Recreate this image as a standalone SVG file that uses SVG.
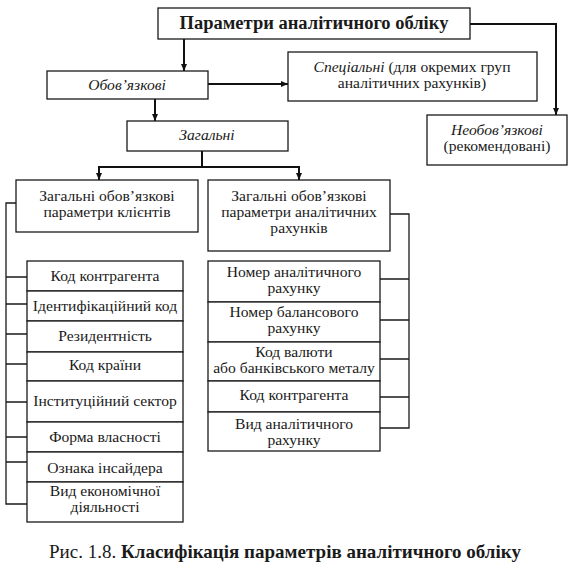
<svg xmlns="http://www.w3.org/2000/svg" width="574" height="579" viewBox="0 0 574 579">
<style>
.box{fill:#fff;stroke:#1a1a1a;stroke-width:1.3}
text{font-family:'Liberation Serif','DejaVu Serif',serif;font-size:15.6px;fill:#1a1a1a;text-anchor:middle}
.i{font-style:italic}
.b{font-weight:bold}
.arr{fill:none;stroke:#111;stroke-width:2}
.br{fill:none;stroke:#1a1a1a;stroke-width:1.3}
</style>
<defs>
<marker id="ah" markerWidth="8" markerHeight="8" refX="7" refY="4" orient="auto" markerUnits="userSpaceOnUse">
<path d="M0,1 L7,4 L0,7 Z" fill="#111"/>
</marker>
</defs>
<rect width="574" height="579" fill="#fff"/>
<g id="connectors">
<path class="arr" d="M184,39 V71" marker-end="url(#ah)"/>
<path class="arr" d="M208,84 H288" marker-end="url(#ah)"/>
<path class="arr" d="M470,24 H556 V115" marker-end="url(#ah)"/>
<path class="arr" d="M155,99 V121" marker-end="url(#ah)"/>
<path class="arr" d="M202,151 V167"/>
<path class="arr" d="M99,167 H299"/>
<path class="arr" d="M99,166 V180" marker-end="url(#ah)"/>
<path class="arr" d="M299,166 V180" marker-end="url(#ah)"/>
<path class="br" d="M16,203 H6 V504 H27 M6,277 H27 M6,304 H27 M6,334 H27 M6,364 H27 M6,402 H27 M6,437 H27 M6,462 H27"/>
<path class="br" d="M390,214 H409 V428 H380 M380,279 H409 M380,320 H409 M380,359 H409 M380,397 H409"/>
</g>
<g id="root">
<rect class="box" x="158" y="8" width="312" height="31"/>
<text class="b" x="314" y="29" style="font-size:18.5px">Параметри аналітичного обліку</text>
</g>
<g id="obov">
<rect class="box" x="47" y="71" width="161" height="28"/>
<text class="i" x="127" y="90">Обов’язкові</text>
</g>
<g id="spec">
<rect class="box" x="288" y="52" width="249" height="49"/>
<text x="412" y="72"><tspan class="i">Спеціальні</tspan> (для окремих груп</text>
<text x="412" y="88">аналітичних рахунків)</text>
</g>
<g id="neobov">
<rect class="box" x="427" y="115" width="140" height="50"/>
<text class="i" x="497" y="135">Необов’язкові</text>
<text x="497" y="151">(рекомендовані)</text>
</g>
<g id="zag">
<rect class="box" x="127" y="121" width="161" height="30"/>
<text class="i" x="207" y="140">Загальні</text>
</g>
<g id="clients">
<rect class="box" x="16" y="180" width="182" height="52"/>
<text x="107" y="201">Загальні обов’язкові</text>
<text x="107" y="217">параметри клієнтів</text>
</g>
<g id="accounts">
<rect class="box" x="208" y="180" width="182" height="71"/>
<text x="299" y="201">Загальні обов’язкові</text>
<text x="299" y="217">параметри аналітичних</text>
<text x="299" y="233">рахунків</text>
</g>
<g id="client-list">
<rect class="box" x="27" y="261" width="156" height="30"/>
<text x="105" y="281">Код контрагента</text>
<rect class="box" x="27" y="291" width="156" height="30"/>
<text x="105" y="311">Ідентифікаційний код</text>
<rect class="box" x="27" y="321" width="156" height="31"/>
<text x="105" y="341">Резидентність</text>
<rect class="box" x="27" y="352" width="156" height="29"/>
<text x="105" y="370">Код країни</text>
<rect class="box" x="27" y="381" width="156" height="41"/>
<text x="105" y="406">Інституційний сектор</text>
<rect class="box" x="27" y="422" width="156" height="30"/>
<text x="105" y="442">Форма власності</text>
<rect class="box" x="27" y="452" width="156" height="30"/>
<text x="105" y="473">Ознака інсайдера</text>
<rect class="box" x="27" y="482" width="156" height="40"/>
<text x="105" y="496">Вид економічної</text>
<text x="105" y="512">діяльності</text>
</g>
<g id="account-list">
<rect class="box" x="208" y="261" width="172" height="41"/>
<text x="294" y="277">Номер аналітичного</text>
<text x="294" y="293">рахунку</text>
<rect class="box" x="208" y="302" width="172" height="40"/>
<text x="294" y="317">Номер балансового</text>
<text x="294" y="333">рахунку</text>
<rect class="box" x="208" y="342" width="172" height="39"/>
<text x="294" y="357">Код валюти</text>
<text x="294" y="373">або банківського металу</text>
<rect class="box" x="208" y="381" width="172" height="31"/>
<text x="294" y="400">Код контрагента</text>
<rect class="box" x="208" y="412" width="172" height="39"/>
<text x="294" y="429">Вид аналітичного</text>
<text x="294" y="445">рахунку</text>
</g>
<text x="285" y="558" style="font-size:19px">Рис. 1.8. <tspan class="b">Класифікація параметрів аналітичного обліку</tspan></text>
</svg>
